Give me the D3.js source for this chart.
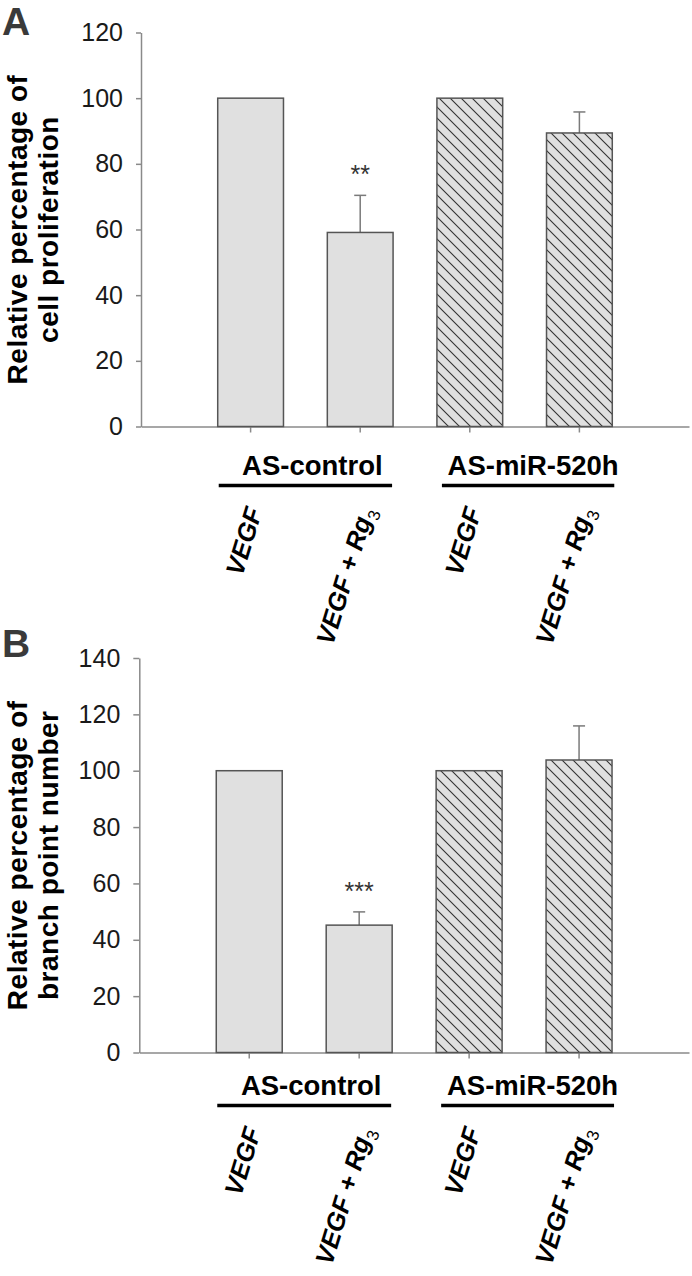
<!DOCTYPE html>
<html>
<head>
<meta charset="utf-8">
<script src="https://cdn.jsdelivr.net/npm/d3@7"></script>
<style>
  html, body { margin: 0; padding: 0; background: #fff; }
  svg { display: block; }
</style>
</head>
<body>
<svg id="chart" width="692" height="1276"></svg>
<script>
// ---------- data ----------
const groups = ["AS-control", "AS-miR-520h"];
const treatments = ["VEGF", "VEGF + Rg"];           // second carries subscript "3"
const treatmentSubs = ["", "3"];
const categories = ["c1", "c2", "c3", "c4"];        // group × treatment
const hatched = [false, false, true, true];

const prolifValues = [100, 59.1, 100, 89.4];
const prolifErrors = [0, 11.3, 0, 6.4];
const prolifStars = ["", "**", "", ""];
const prolifTicks = [0, 20, 40, 60, 80, 100, 120];

const branchValues = [100, 45.2, 100, 103.8];
const branchErrors = [0, 4.7, 0, 12.1];
const branchStars = ["", "***", "", ""];
const branchTicks = [0, 20, 40, 60, 80, 100, 120, 140];

const panelLetters = ["A", "B"];
const yTitlesA = ["Relative percentage of", "cell proliferation"];
const yTitlesB = ["Relative percentage of", "branch point number"];

// ---------- drawing ----------
const svg = d3.select("#chart");
const FONT = "'Liberation Sans', Arial, Helvetica, sans-serif";

const defs = svg.append("defs");
const pat = defs.append("pattern")
  .attr("id", "hatch")
  .attr("patternUnits", "userSpaceOnUse")
  .attr("width", 11).attr("height", 11);
pat.append("rect").attr("width", 11).attr("height", 11).attr("fill", "#e0e0e0");
pat.append("path")
  .attr("d", "M-1,-1 L12,12 M-1,10 L1,12 M10,-1 L12,1")
  .attr("stroke", "#333").attr("stroke-width", 1.1);

function drawPanel(cfg) {
  const g = svg.append("g");
  const x = d3.scaleBand().domain(categories)
    .range([cfg.axisX, cfg.axisRight])
    .paddingInner(0.4).paddingOuter(0.7);
  const y = d3.scaleLinear().domain([0, cfg.ticks[cfg.ticks.length - 1]])
    .range([cfg.base, cfg.top]);

  // y axis
  const ya = g.append("g")
    .attr("transform", `translate(${cfg.axisX},0)`)
    .call(d3.axisLeft(y).tickValues(cfg.ticks).tickSize(cfg.tickLen).tickSizeOuter(0).tickPadding(13));
  ya.select(".domain").attr("stroke", "#8a8a8a").attr("stroke-width", 1.5);
  ya.selectAll(".tick line").attr("stroke", "#8a8a8a").attr("stroke-width", 1.5);
  ya.selectAll(".tick text").attr("font-family", FONT).attr("font-size", 25)
    .attr("fill", "#1a1a1a");

  // x axis
  const xa = g.append("g")
    .attr("transform", `translate(0,${cfg.base})`)
    .call(d3.axisBottom(x).tickSize(6).tickSizeOuter(0).tickFormat(""));
  xa.select(".domain").attr("stroke", "#8a8a8a").attr("stroke-width", 1.5);
  xa.selectAll(".tick line").attr("stroke", "#8a8a8a").attr("stroke-width", 1.5);

  // error bars
  const eg = g.append("g");
  categories.forEach((c, i) => {
    if (!cfg.errors[i]) return;
    const cx = x(c) + x.bandwidth() / 2;
    eg.append("line").attr("x1", cx).attr("x2", cx)
      .attr("y1", y(cfg.values[i])).attr("y2", y(cfg.values[i] + cfg.errors[i]))
      .attr("stroke", "#7a7a7a").attr("stroke-width", 1.5);
    eg.append("line").attr("x1", cx - 6).attr("x2", cx + 6)
      .attr("y1", y(cfg.values[i] + cfg.errors[i])).attr("y2", y(cfg.values[i] + cfg.errors[i]))
      .attr("stroke", "#7a7a7a").attr("stroke-width", 1.5);
  });

  // bars
  g.append("g").selectAll("rect").data(categories).join("rect")
    .attr("x", c => x(c))
    .attr("width", x.bandwidth())
    .attr("y", (c, i) => y(cfg.values[i]))
    .attr("height", (c, i) => y(0) - y(cfg.values[i]))
    .attr("fill", (c, i) => hatched[i] ? "url(#hatch)" : "#e0e0e0")
    .attr("stroke", "#555").attr("stroke-width", 1.5);

  // stars
  g.append("g").selectAll("text").data(categories).join("text")
    .attr("x", c => x(c) + x.bandwidth() / 2)
    .attr("y", (c, i) => y(cfg.values[i] + cfg.errors[i]) - 12)
    .attr("text-anchor", "middle")
    .attr("font-family", FONT).attr("font-size", 25).attr("fill", "#333")
    .text((c, i) => cfg.stars[i]);

  // group labels and underlines
  groups.forEach((grp, gi) => {
    const c0 = categories[gi * 2], c1 = categories[gi * 2 + 1];
    const x0 = x(c0) + 1, x1 = x(c1) + x.bandwidth() - 1 + gi * 3;
    g.append("line").attr("x1", x0 + gi * 4).attr("x2", x1)
      .attr("y1", cfg.base + cfg.lineOff).attr("y2", cfg.base + cfg.lineOff)
      .attr("stroke", "#000").attr("stroke-width", 3.5);
    g.append("text")
      .attr("x", (x0 + x1) / 2 + 7)
      .attr("y", cfg.base + cfg.labelOff)
      .attr("text-anchor", "middle")
      .attr("font-family", FONT).attr("font-weight", "bold").attr("font-size", 27.5)
      .attr("fill", "#000")
      .text(grp);
  });

  // treatment (rotated) labels
  categories.forEach((c, i) => {
    const ti = i % 2;
    const cx = x(c) + x.bandwidth() / 2;
    const t = g.append("text")
      .attr("transform", `translate(${cx + 12 + ti * 2},${cfg.base + cfg.lineOff + 25}) rotate(-73)`)
      .attr("text-anchor", "end")
      .attr("font-family", FONT).attr("font-weight", "bold").attr("font-style", "italic")
      .attr("font-size", 25.5).attr("fill", "#000");
    t.append("tspan").text(treatments[ti]);
    if (treatmentSubs[ti]) {
      t.append("tspan").attr("dy", 7).attr("font-size", 17).attr("font-style", "normal")
        .attr("font-weight", "normal").text(treatmentSubs[ti]);
    }
  });

  // y title
  const midY = (cfg.base + cfg.top) / 2;
  cfg.titles.forEach((line, li) => {
    g.append("text")
      .attr("transform", `translate(${27 + li * 31},${midY}) rotate(-90)`)
      .attr("text-anchor", "middle")
      .attr("font-family", FONT).attr("font-weight", "bold").attr("font-size", 28)
      .attr("letter-spacing", 0.5)
      .attr("fill", "#000")
      .text(line);
  });

  // panel letter
  g.append("text").attr("x", 2).attr("y", cfg.letterY)
    .attr("font-family", FONT).attr("font-weight", "bold").attr("font-size", 39)
    .attr("fill", "#3a3a3a").text(cfg.letter);
}

drawPanel({
  letter: panelLetters[0], letterY: 35,
  axisX: 141, axisRight: 689, base: 426.5, top: 32.5, tickLen: 5,
  ticks: prolifTicks, values: prolifValues, errors: prolifErrors, stars: prolifStars,
  titles: yTitlesA, labelOff: 48.5, lineOff: 59
});
drawPanel({
  letter: panelLetters[1], letterY: 657,
  axisX: 139.3, axisRight: 689, base: 1052.5, top: 658, tickLen: 6,
  ticks: branchTicks, values: branchValues, errors: branchErrors, stars: branchStars,
  titles: yTitlesB, labelOff: 42.5, lineOff: 53
});
</script>
</body>
</html>
